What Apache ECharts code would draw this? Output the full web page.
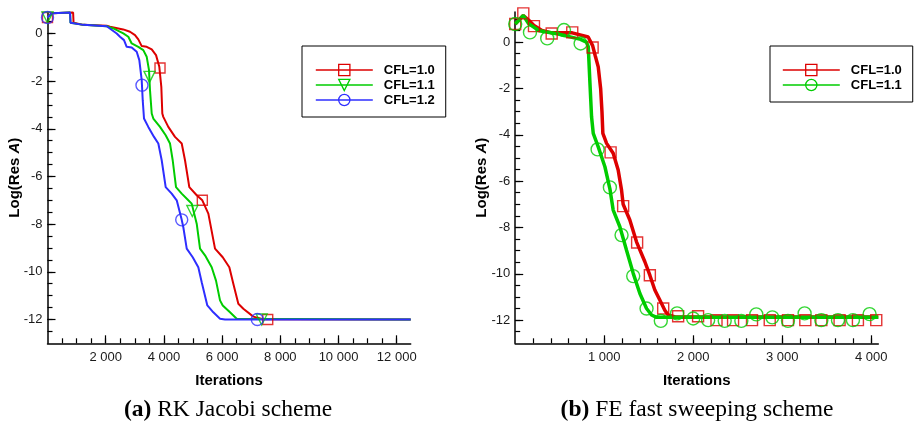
<!DOCTYPE html>
<html><head><meta charset="utf-8">
<script src="https://cdn.jsdelivr.net/npm/echarts@6/dist/echarts.min.js"></script>
<style>html,body{margin:0;padding:0;background:#fff}#c{width:916px;height:429px}</style>
</head><body><div id="c"></div>
<script>
// ---- (a) RK Jacobi scheme ----
const rkIter10 = [0,150,880,895,1230,2035,2150,2600,2835,3007,3120,3237,3409,3581,3729,3842,3911,3945,3979,4151,4381,4612,4725,4873,5127,5320,5527,5756,6021,6248,6385,6557,6729,7072,7416,12480];
const rkRes10  = [0.67,0.85,0.88,0.45,0.36,0.32,0.28,0.17,0.07,-0.07,-0.25,-0.53,-0.56,-0.67,-0.91,-1.40,-2.24,-3.36,-3.50,-3.92,-4.34,-4.62,-5.32,-6.45,-6.79,-7.00,-7.56,-9.03,-9.39,-9.81,-10.5,-11.34,-11.55,-11.88,-11.99,-12.0];
const rkIter11 = [0,150,775,790,1230,2035,2262,2605,2777,2893,3120,3292,3409,3488,3522,3581,3636,3866,4061,4210,4302,4416,4612,4838,4955,5127,5241,5412,5642,5790,5928,6021,6271,6501,12480];
const rkRes11  = [0.67,0.85,0.88,0.45,0.36,0.30,0.21,0.0,-0.14,-0.42,-0.56,-0.70,-0.98,-1.54,-2.38,-3.36,-3.57,-3.92,-4.27,-4.62,-5.32,-6.45,-6.72,-7.0,-7.14,-7.98,-9.03,-9.31,-9.81,-10.37,-11.2,-11.41,-11.7,-11.97,-12.0];
const rkIter12 = [0,150,775,790,1230,2035,2378,2491,2629,2721,2893,3065,3155,3237,3272,3316,3464,3660,3808,3924,4061,4268,4440,4612,4667,4784,4990,5182,5299,5492,5698,5928,6100,12480];
const rkRes12  = [0.67,0.85,0.88,0.45,0.36,0.30,0.0,-0.14,-0.28,-0.56,-0.59,-0.77,-1.12,-1.96,-2.80,-3.57,-3.92,-4.34,-4.62,-5.32,-6.45,-6.72,-7.0,-7.82,-8.13,-9.03,-9.39,-9.81,-10.44,-11.41,-11.7,-11.97,-12.0,-12.0];
const rkMk10X = [0,3866,5320,7567], rkMk10Y = [0.67,-1.45,-7.0,-12];
const rkMk11X = [0,3505,4976,7360], rkMk11Y = [0.67,-1.82,-7.45,-12];
const rkMk12X = [0,3246,4612,7210], rkMk12Y = [0.67,-2.17,-7.82,-12];

// ---- (b) FE fast sweeping scheme ----
const feIter10 = [0,91,150,211,300,410,641,820,870,900,933,960,975,985,1027,1101,1157,1195,1213,1288,1363,1457,1513,1569,1625,1681,1719,1800,4080];
const feRes10  = [0.78,1.15,0.95,0.72,0.5,0.40,0.40,0.22,-0.15,-0.6,-1.07,-2.0,-3.0,-3.94,-4.37,-4.80,-5.52,-6.39,-7.0,-7.68,-8.62,-9.48,-10.06,-10.7,-11.13,-11.57,-11.78,-11.86,-11.86];
const feIter11 = [0,91,150,270,484,735,800,821,840,858,877,933,1008,1064,1101,1176,1251,1326,1401,1476,1532,1588,4080];
const feRes11  = [0.78,1.15,0.8,0.49,0.35,0.12,0.0,-0.2,-1.78,-3.22,-3.94,-4.52,-5.38,-6.33,-7.25,-7.97,-8.98,-9.98,-10.85,-11.5,-11.78,-11.88,-11.88];
const feMk10X = [0,91,211,410,641,870,1072,1213,1370,1513,1663,1831,2055,2262,2448,2661,2860,3065,3260,3440,3645,3851,4057];
const feMk10Y = [0.78,1.24,0.69,0.37,0.42,-0.23,-4.76,-7.08,-8.65,-10.06,-11.5,-11.83,-11.83,-12,-12,-12,-12,-12,-12,-12,-12,-12,-12];
const feMk11X = [0,166,360,548,735,926,1064,1195,1326,1476,1636,1819,2000,2168,2354,2541,2709,2889,3065,3252,3440,3627,3795,3982];
const feMk11Y = [0.78,0.42,0.16,0.52,-0.06,-4.63,-6.27,-8.33,-10.1,-11.5,-12.03,-11.71,-11.93,-12,-12.03,-12.03,-11.75,-11.88,-12.03,-11.71,-12,-12,-12,-11.74];

// ---- ticks ----
const leftXLabels  = [2000,4000,6000,8000,10000,12000];
const rightXLabels = [1000,2000,3000,4000];
const yLabels      = [0,-2,-4,-6,-8,-10,-12];
const leftXRange = [0, 12480], rightXRange = [0, 4080];
const leftYRange = [-13, 0.9], rightYRange = [-13, 1.3];

function steps(a, b, s) { const r = []; for (let v = a; v <= b + 1e-9; v += s) r.push(Math.round(v * 1000) / 1000); return r; }
const zip = (xs, ys) => xs.map((x, i) => [x, ys[i]]);
const fmt = v => String(v).replace(/\B(?=(\d{3})+(?!\d))/g, ' ');

const RED = '#dd0000', GREEN = '#00cc00', BLUE = '#2e2eff';
const FONT = 'Liberation Sans, Arial, sans-serif';
const axisCommon = { type: 'value', splitLine: { show: false }, axisPointer: { show: false } };

function xAxes(gi, range, labels, minor) {
  return [
    Object.assign({}, axisCommon, {
      gridIndex: gi, min: range[0], max: range[1], position: 'bottom',
      name: 'Iterations', nameLocation: 'middle', nameGap: 30, nameMoveOverlap: false,
      nameTextStyle: { fontFamily: FONT, fontWeight: 'bold', fontSize: 15, color: '#000' },
      axisLine: { show: true, onZero: false, lineStyle: { color: '#000', width: 1.5 } },
      axisTick: { show: true, inside: true, length: 8, customValues: labels, lineStyle: { color: '#000', width: 1.2 } },
      axisLabel: { customValues: labels, formatter: fmt, margin: 8, fontFamily: FONT, fontSize: 13, color: '#1a1a1a' }
    }),
    Object.assign({}, axisCommon, {
      gridIndex: gi, min: range[0], max: range[1], position: 'bottom',
      axisLine: { show: false, onZero: false },
      axisTick: { show: true, inside: true, length: 5, customValues: minor, lineStyle: { color: '#000', width: 1.2 } },
      axisLabel: { show: false }
    })
  ];
}
function yAxes(gi, range, minor, gap) {
  return [
    Object.assign({}, axisCommon, {
      gridIndex: gi, min: range[0], max: range[1], position: 'left',
      name: '{n|Log(Res }{i|A}{n|)}', nameLocation: 'middle', nameGap: gap, nameRotate: 90, nameMoveOverlap: false,
      nameTextStyle: { rich: {
        n: { fontFamily: FONT, fontWeight: 'bold', fontSize: 15, color: '#000' },
        i: { fontFamily: FONT, fontWeight: 'bold', fontStyle: 'italic', fontSize: 15, color: '#000' } } },
      axisLine: { show: true, onZero: false, lineStyle: { color: '#000', width: 1.5 } },
      axisTick: { show: true, inside: true, length: 8, customValues: yLabels, lineStyle: { color: '#000', width: 1.2 } },
      axisLabel: { customValues: yLabels, margin: 5, fontFamily: FONT, fontSize: 13, color: '#1a1a1a' }
    }),
    Object.assign({}, axisCommon, {
      gridIndex: gi, min: range[0], max: range[1], position: 'left',
      axisLine: { show: false, onZero: false },
      axisTick: { show: true, inside: true, length: 5, customValues: minor, lineStyle: { color: '#000', width: 1.2 } },
      axisLabel: { show: false }
    })
  ];
}

function lineS(name, xi, yi, xs, ys, color, sym, rot, w) {
  return { type: 'line', name, xAxisIndex: xi, yAxisIndex: yi, data: zip(xs, ys),
    showSymbol: false, symbol: sym, symbolRotate: rot, animation: false,
    lineStyle: { color, width: w }, itemStyle: { color }, z: 2 };
}
function mkS(name, xi, yi, xs, ys, color, sym, rot, size) {
  return { type: 'scatter', name, xAxisIndex: xi, yAxisIndex: yi, data: zip(xs, ys),
    symbol: sym, symbolRotate: rot, symbolSize: size, animation: false, clip: false,
    itemStyle: { color: 'rgba(0,0,0,0)', borderColor: color, borderWidth: 1.4 }, z: 3 };
}
function legItem(name, color) {
  return { name, itemStyle: { color: 'rgba(0,0,0,0)', borderColor: color, borderWidth: 1.3 },
    lineStyle: { color, width: 1.6 } };
}

const legendCommon = {
  orient: 'vertical', itemWidth: 57, itemHeight: 14, itemGap: 1, selectedMode: false,
  borderColor: '#000', borderWidth: 1, backgroundColor: '#fff',
  textStyle: { fontFamily: FONT, fontWeight: 'bold', fontSize: 13, color: '#000', padding: [0, 0, 0, 6], lineHeight: 14 }
};
const capStyle = { align: 'center', verticalAlign: 'middle', fontFamily: 'Liberation Serif, serif', fontSize: 23.5, fill: '#000' };

const option = {
  animation: false,
  backgroundColor: '#fff',
  grid: [
    { left: 47.5, top: 12, width: 363.2, bottom: 85.7, containLabel: false, outerBoundsMode: 'none' },
    { left: 515.2, top: 12, width: 363.1, bottom: 85.7, containLabel: false, outerBoundsMode: 'none' }
  ],
  xAxis: [].concat(
    xAxes(0, leftXRange, leftXLabels, steps(500, 12000, 500)),
    xAxes(1, rightXRange, rightXLabels, steps(200, 4000, 200))
  ),
  yAxis: [].concat(
    yAxes(0, leftYRange, steps(-12.5, 0.5, 0.5), 25),
    yAxes(1, rightYRange, steps(-12.5, 1, 0.5), 26)
  ),
  legend: [
    Object.assign({}, legendCommon, { left: 302, top: 46, padding: [17, 11, 10, 13],
      data: [legItem('CFL=1.0', RED), legItem('CFL=1.1', GREEN), legItem('CFL=1.2', BLUE)] }),
    Object.assign({}, legendCommon, { left: 770, top: 46, padding: [17, 11, 10, 12],
      formatter: n => n.replace(' (b)', ''),
      data: [legItem('CFL=1.0 (b)', RED), legItem('CFL=1.1 (b)', GREEN)] })
  ],
  series: [
    lineS('CFL=1.0', 0, 0, rkIter10, rkRes10, RED, 'rect', 0, 2),
    lineS('CFL=1.1', 0, 0, rkIter11, rkRes11, GREEN, 'triangle', 180, 2),
    lineS('CFL=1.2', 0, 0, rkIter12, rkRes12, BLUE, 'circle', 0, 2),
    mkS('CFL=1.0', 0, 0, rkMk10X, rkMk10Y, RED, 'rect', 0, 10),
    mkS('CFL=1.1', 0, 0, rkMk11X, rkMk11Y, GREEN, 'triangle', 180, 11),
    mkS('CFL=1.2', 0, 0, rkMk12X, rkMk12Y, BLUE, 'circle', 0, 12),
    lineS('CFL=1.0 (b)', 2, 2, feIter10, feRes10, RED, 'rect', 0, 3.5),
    lineS('CFL=1.1 (b)', 2, 2, feIter11, feRes11, GREEN, 'circle', 0, 3.5),
    mkS('CFL=1.0 (b)', 2, 2, feMk10X, feMk10Y, RED, 'rect', 0, 11),
    mkS('CFL=1.1 (b)', 2, 2, feMk11X, feMk11Y, GREEN, 'circle', 0, 13)
  ],
  graphic: [
    { type: 'text', x: 228, y: 410, style: Object.assign({ text: '{b|(a)} RK Jacobi scheme',
        rich: { b: { fontFamily: 'Liberation Serif, serif', fontWeight: 'bold', fontSize: 23.5 } } }, capStyle) },
    { type: 'text', x: 697, y: 410, style: Object.assign({ text: '{b|(b)} FE fast sweeping scheme',
        rich: { b: { fontFamily: 'Liberation Serif, serif', fontWeight: 'bold', fontSize: 23.5 } } }, capStyle) }
  ]
};
const chart = echarts.init(document.getElementById('c'), null, { renderer: 'canvas' });
chart.setOption(option);
</script>
</body></html>
